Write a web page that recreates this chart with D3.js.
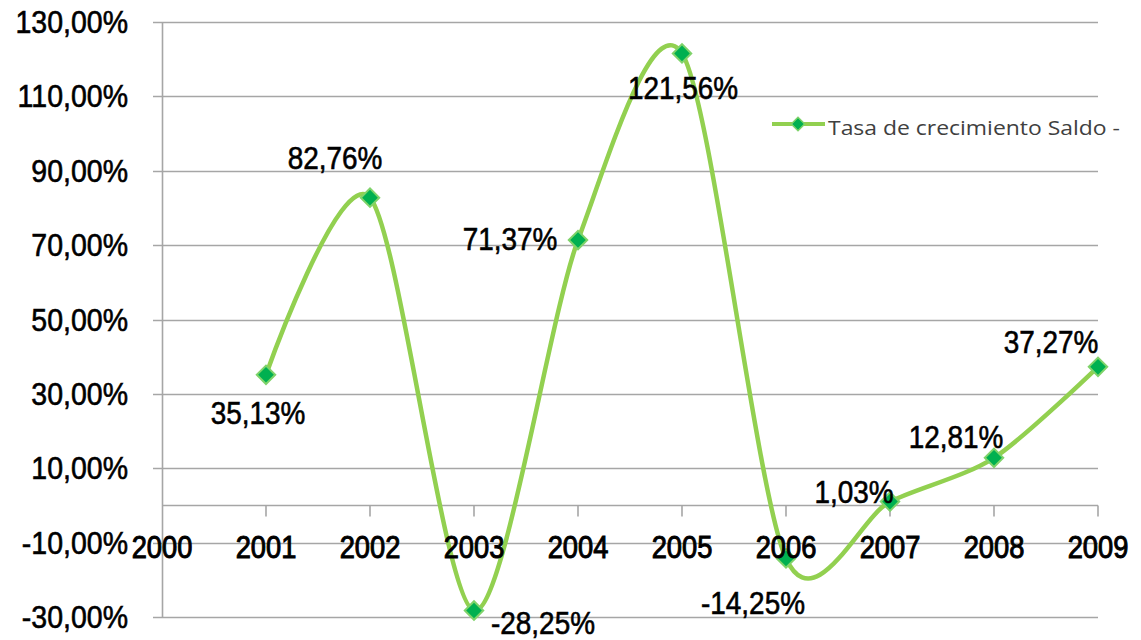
<!DOCTYPE html>
<html>
<head>
<meta charset="utf-8">
<script src="https://d3js.org/d3.v7.min.js"></script>
<style>
html,body{margin:0;padding:0;background:#fff;}
svg{display:block;}
</style>
</head>
<body>
<svg id="chart" width="1141" height="640"></svg>
<script>
// ---- data ----
const xTickLabels = ["2000","2001","2002","2003","2004","2005","2006","2007","2008","2009"];
const categories = ["2001","2002","2003","2004","2005","2006","2007","2008","2009"];
const values = [35.13, 82.76, -28.25, 71.37, 121.56, -14.25, 1.03, 12.81, 37.27];
const yTicks = [-30, -10, 10, 30, 50, 70, 90, 110, 130];
const seriesName = "Tasa de crecimiento Saldo -";

(function () {
// ---- layout ----
const plotLeft = 162, plotRight = 1098, plotTop = 22, plotBottom = 617;
const svg = d3.select("#chart");

const x = d3.scalePoint().domain(xTickLabels).range([plotLeft, plotRight]);
const y = d3.scaleLinear().domain([-30, 130]).range([plotBottom, plotTop]);

const locale = d3.formatLocale({decimal: ",", thousands: ".", grouping: [3], currency: ["", "€"], minus: "-"});
const fmt = v => locale.format(".2f")(v) + "%";
const gridColor = "#a6a6a6";

function txt(g, s, px, py, opts) {
  const t = g.append("text")
    .attr("transform", `translate(${px},${py}) scale(${opts.sx||0.9},1)`)
    .attr("text-anchor", opts.anchor || "middle")
    .attr("font-family", opts.family || "'Liberation Sans', Arial, sans-serif")
    .attr("font-size", opts.size || 31)
    .attr("font-weight", opts.weight || "normal")
    .attr("fill", opts.fill || "#000")
    .text(s);
  if (opts.stroke) t.attr("stroke", opts.fill || "#000").attr("stroke-width", opts.stroke);
  return t;
}

// gridlines (with left tick extension)
svg.append("g").selectAll("line").data(yTicks).join("line")
  .attr("x1", plotLeft - 9).attr("x2", plotRight)
  .attr("y1", d => Math.round(y(d)) + 0.5).attr("y2", d => Math.round(y(d)) + 0.5)
  .attr("stroke", gridColor).attr("stroke-width", 1.6);

// y axis line
svg.append("line").attr("x1", plotLeft + 0.5).attr("x2", plotLeft + 0.5)
  .attr("y1", y(130)).attr("y2", y(-30))
  .attr("stroke", gridColor).attr("stroke-width", 1.6);

// x axis at zero with ticks downward
const y0 = Math.round(y(0)) + 0.5;
svg.append("line").attr("x1", plotLeft).attr("x2", plotRight).attr("y1", y0).attr("y2", y0)
  .attr("stroke", gridColor).attr("stroke-width", 1.6);
svg.append("g").selectAll("line").data(xTickLabels.slice(1)).join("line")
  .attr("x1", d => x(d)).attr("x2", d => x(d))
  .attr("y1", y0).attr("y2", y0 + 11)
  .attr("stroke", gridColor).attr("stroke-width", 1.6);

// y tick labels
const yl = svg.append("g");
yTicks.forEach(v => {
  txt(yl, fmt(v), 128, y(v) + 11, {anchor: "end", size: 31, sx: 0.92, stroke: 0.6});
});

// series line
const pts = categories.map((c, i) => [x(c), y(values[i])]);
svg.append("path")
  .attr("d", d3.line().curve(d3.curveCardinal.tension(0.15))(pts))
  .attr("fill", "none").attr("stroke", "#92d050").attr("stroke-width", 4.5)
  .attr("stroke-linejoin", "round").attr("stroke-linecap", "round");

// markers
svg.append("g").selectAll("path").data(pts).join("path")
  .attr("d", d3.symbol(d3.symbolSquare, 170)())
  .attr("transform", d => `translate(${d[0]},${d[1]}) rotate(45)`)
  .attr("fill", "#00b050").attr("stroke", "#7fd36a").attr("stroke-width", 2);

// x tick labels (drawn above line)
const xl = svg.append("g");
xTickLabels.forEach(d => {
  txt(xl, d, x(d), 558, {size: 31, sx: 0.88, stroke: 1});
});

// data labels
const labelOffsets = [[-8, 38], [-35, -40], [69, 13], [-68, -1], [1, 35], [-33, 45], [-36, -10], [-38, -21], [-47, -25]];
const dl = svg.append("g");
pts.forEach((p, i) => {
  const o = labelOffsets[i];
  txt(dl, fmt(values[i]), p[0] + o[0], p[1] + o[1] + 11, {size: 31, sx: 0.9, stroke: 0.6});
});

// legend
const lg = svg.append("g");
lg.append("line").attr("x1", 772).attr("x2", 825).attr("y1", 124).attr("y2", 124)
  .attr("stroke", "#92d050").attr("stroke-width", 4);
lg.append("path").attr("d", d3.symbol(d3.symbolSquare, 90)())
  .attr("transform", "translate(798,124) rotate(45)")
  .attr("fill", "#00b050").attr("stroke", "#7fd36a").attr("stroke-width", 1.5);
lg.append("text").attr("x", 828).attr("y", 135)
  .attr("font-family", "'Open Sans', Lato, sans-serif").attr("font-size", 20)
  .attr("fill", "#404040")
  .attr("textLength", 292).attr("lengthAdjust", "spacingAndGlyphs")
  .text(seriesName);
})();
</script>
</body>
</html>
